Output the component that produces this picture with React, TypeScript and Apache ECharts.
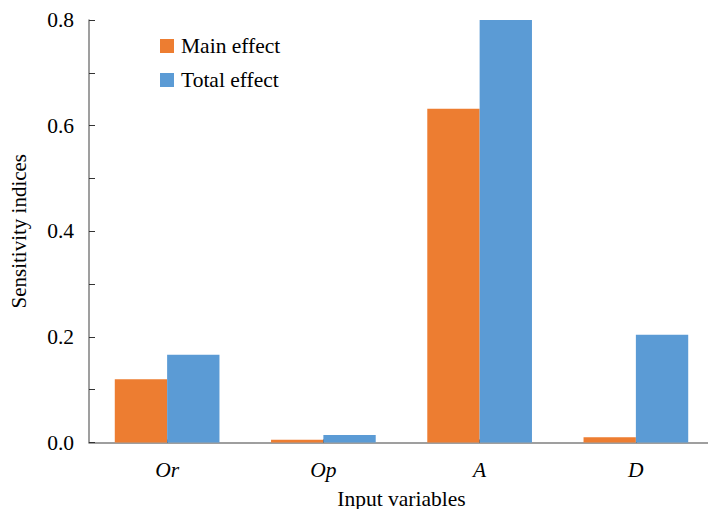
import React, { useEffect, useRef } from "react";
import * as echarts from "echarts";

const categories = ["Or", "Op", "A", "D"];
const mainEffect = [0.12, 0.005, 0.632, 0.01];
const totalEffect = [0.166, 0.014, 0.8, 0.204];
const seriesNames = ["Main effect", "Total effect"];

export default function App() {
  const ref = useRef<HTMLDivElement>(null);
  useEffect(() => {
    const chart = echarts.init(ref.current!, null, { renderer: "svg" });
    const font = "Liberation Serif";
    chart.setOption({
      animation: false,
      textStyle: { fontFamily: font },
      grid: { left: 89, top: 20, height: 422.5, width: 625, outerBoundsMode: "none" },
      legend: {
        orient: "vertical",
        left: 155,
        top: 30,
        itemWidth: 14,
        itemHeight: 14,
        itemGap: 12,
        textStyle: { fontFamily: font, fontSize: 21.5, color: "#000", padding: [0, 0, 0, 2] },
        data: seriesNames.map((n) => ({ name: n, icon: "rect" })),
      },
      xAxis: {
        type: "category",
        data: categories,
        name: "Input variables",
        nameLocation: "middle",
        nameGap: 45,
        nameTextStyle: { fontFamily: font, fontSize: 21.5, color: "#000" },
        axisLine: { lineStyle: { color: "#7f7f7f", width: 1.5 } },
        axisTick: { show: true, inside: true, alignWithLabel: true, length: 3, lineStyle: { color: "#333" } },
        axisLabel: { fontFamily: font, fontSize: 21.5, fontStyle: "italic", color: "#000", margin: 16 },
      },
      yAxis: {
        type: "value",
        min: 0,
        max: 0.8,
        interval: 0.2,
        name: "Sensitivity indices",
        nameLocation: "middle",
        nameGap: 60,
        nameTextStyle: { fontFamily: font, fontSize: 21, color: "#000" },
        axisLine: { show: true, lineStyle: { color: "#7f7f7f", width: 1.5 } },
        axisTick: { show: true, inside: true, length: 6, lineStyle: { color: "#333" } },
        minorTick: { show: true, splitNumber: 2, length: 6, lineStyle: { color: "#333" } },
        splitLine: { show: false },
        axisLabel: {
          fontFamily: font,
          fontSize: 21.5,
          color: "#000",
          margin: 15,
          formatter: (v: number) => v.toFixed(1),
        },
      },
      series: [
        {
          name: seriesNames[0],
          type: "bar",
          data: mainEffect,
          barGap: "0%",
          barCategoryGap: "33%",
          itemStyle: { color: "#ED7D31" },
        },
        {
          name: seriesNames[1],
          type: "bar",
          data: totalEffect,
          barGap: "0%",
          barCategoryGap: "33%",
          itemStyle: { color: "#5B9BD5" },
        },
      ],
    });
    return () => chart.dispose();
  }, []);
  return (
    <div style={{ position: "absolute", left: 0, top: 0, width: 708, height: 509 }}>
      <div ref={ref} style={{ width: 708, height: 509 }} />
    </div>
  );
}
